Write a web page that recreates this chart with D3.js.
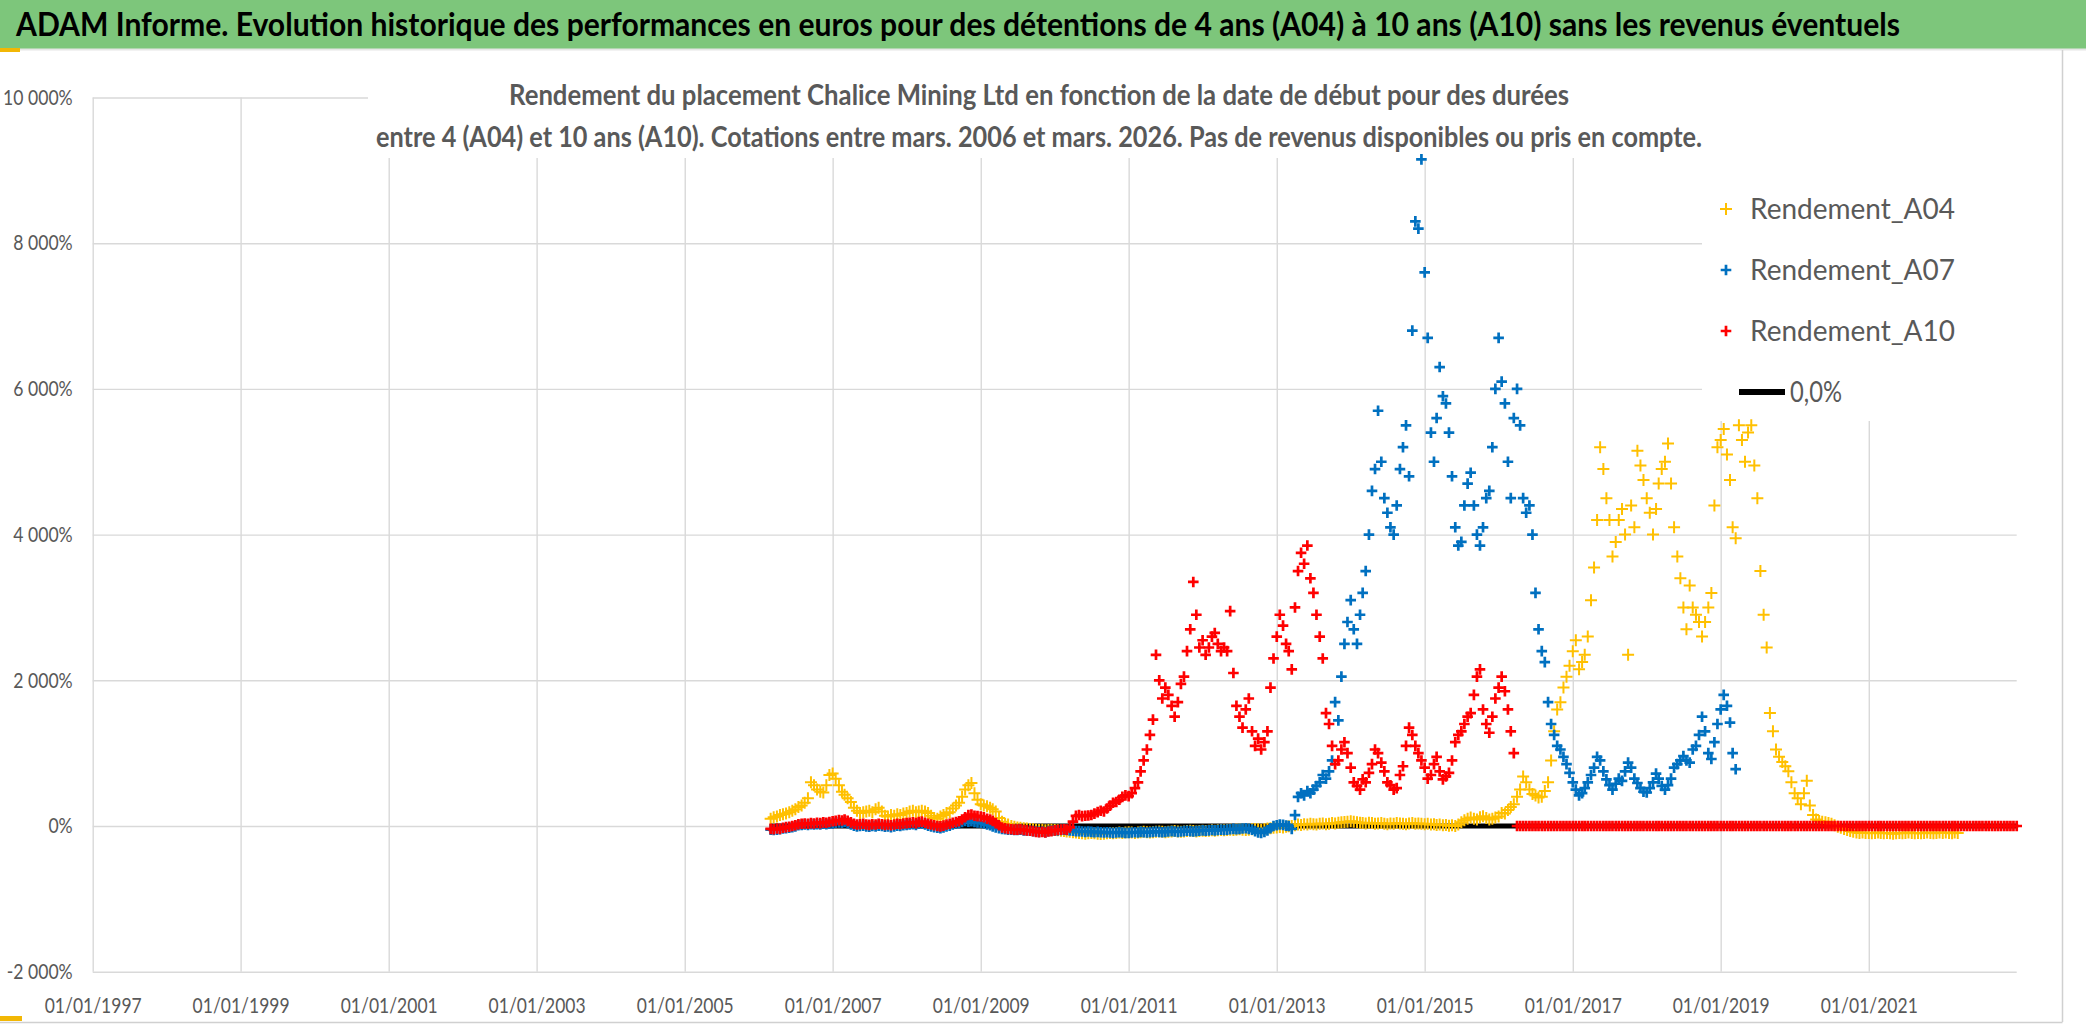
<!DOCTYPE html>
<html>
<head>
<meta charset="utf-8">
<script src="https://cdn.jsdelivr.net/npm/d3@7"></script>
<style>
body { margin: 0; background: #fff; }
svg { display: block; }
text { font-family: Lato, 'Open Sans', sans-serif; }
</style>
</head>
<body>
<svg id="chart" width="2086" height="1031"></svg>
<script>
// one value every half month (1st and 16th), starting 1st March 2006
const startYear = 2006
const startMonth = 2

const a04 = [
    100, 120, 130, 150, 160, 170, 190, 210, 230, 260, 280, 320, 380, 600, 560, 500, 470, 460, 560, 700,
    720, 650, 560, 470, 430, 380, 330, 250, 210, 180, 190, 200, 210, 190, 230, 250, 200, 140, 130, 150, 140, 160, 150, 170,
    180, 200, 210, 190, 200, 210, 200, 180, 140, 110, 100, 130, 150, 180, 190, 240, 280, 320, 400, 500, 560, 590, 450, 360,
    300, 280, 270, 250, 230, 200, 110, 60, 30, 20, 0, -10, -20, -25, -30, -35, -40, -45, -50, -55, -50, -60, -55, -50,
    -55, -60, -65, -70, -75, -80, -85, -90, -95, -100, -105, -100, -95, -100, -105, -110, -105, -100, -95, -100, -95, -90, -95, -90,
    -85, -90, -95, -90, -85, -80, -85, -90, -85, -80, -75, -80, -85, -80, -75, -70, -75, -80, -75, -70, -65, -70, -75, -70,
    -65, -70, -65, -60, -65, -60, -55, -60, -55, -50, -55, -50, -45, -50, -55, -50, -45, -40, -45, -50, -40, -35, -30, -25,
    -20, -15, -20, -10, -5, 0, 10, 20, 15, 25, 20, 30, 25, 20, 30, 35, 25, 30, 40, 35, 45, 50, 55, 60,
    65, 60, 50, 45, 40, 35, 45, 40, 30, 35, 40, 30, 25, 35, 30, 40, 35, 30, 25, 35, 40, 30, 35, 30,
    25, 30, 20, 25, 15, 20, 10, 15, 5, 10, 0, 20, 50, 80, 100, 115, 100, 90, 120, 135, 110, 90, 100, 115,
    130, 180, 170, 220, 260, 300, 400, 500, 680, 600, 500, 440, 420, 390, 400, 480, 600, 900, 1300, 1600, 1700, 1900, 2050, 2200,
    2400, 2550, 2150, 2250, 2350, 2600, 3100, 3550, 4200, 5200, 4900, 4500, 4200, 3700, 3900, 4200, 4350, 4000, 2350, 4400, 4100, 5150, 4950, 4750,
    4500, 4300, 4000, 4350, 4700, 4900, 5000, 5250, 4700, 4100, 3700, 3400, 3000, 2700, 3300, 3000, 2900, 2800, 2600, 2800, 3000, 3200, 4400, 5200,
    5300, 5450, 5100, 4750, 4100, 3950, 5500, 5300, 5000, 5400, 5500, 4950, 4500, 3500, 2900, 2450, 1550, 1300, 1050, 950, 880, 820, 750, 600,
    450, 380, 300, 450, 620, 280, 150, 90, 70, 60, 50, 40, 30, 10, -10, -25, -40, -55, -70, -80, -90, -95, -90, -95,
    -95, -100, -95, -90, -95, -100, -95, -100, -105, -100, -95, -100, -95, -90, -95, -100, -95, -100, -95, -90, -95, -100, -95, -90,
    -95, -90, -95, -100, -90, -95
]

const a07 = [
    -50, -55, -50, -45, -35, -30, -25, -15, -5, 10, 15, 20, 15, 25, 20, 25, 20, 30, 25, 30,
    35, 45, 50, 45, 55, 40, 20, 5, -5, 0, 5, -5, -10, 0, -5, 5, 0, -10, -5, -15, -5, 5, 0, 10,
    15, 20, 25, 15, 30, 35, 20, 5, -5, -15, -25, -30, -20, -5, 5, 20, 30, 40, 55, 70, 60, 65, 55, 50,
    45, 35, 20, 10, -5, -20, -30, -40, -45, -50, -50, -55, -55, -50, -60, -60, -65, -70, -75, -80, -75, -85, -70, -65,
    -60, -60, -55, -50, -55, -60, -65, -70, -70, -75, -80, -75, -80, -85, -80, -85, -90, -85, -90, -95, -90, -85, -90, -95,
    -95, -90, -85, -90, -80, -85, -90, -85, -80, -75, -80, -85, -80, -75, -70, -75, -80, -75, -70, -65, -70, -75, -70, -65,
    -60, -65, -60, -55, -60, -55, -50, -55, -50, -45, -40, -45, -40, -35, -30, -40, -50, -70, -90, -95, -80, -60, -30, 0,
    10, 20, 15, 5, 0, -40, 150, 400, 450, 420, 480, 450, 500, 550, 600, 700, 650, 750, 900, 1700, 1450, 2050, 2500, 2800,
    3100, 2700, 2500, 2900, 3200, 3500, 4000, 4600, 4900, 5700, 5000, 4500, 4300, 4100, 4000, 4400, 4900, 5200, 5500, 4800, 6800, 8300, 8200, 9150,
    7600, 6700, 5400, 5000, 5600, 6300, 5900, 5800, 5400, 4800, 4100, 3850, 3900, 4400, 4700, 4850, 4400, 4000, 3850, 4100, 4500, 4600, 5200, 6000,
    6700, 6100, 5800, 5000, 4500, 5600, 6000, 5500, 4500, 4300, 4400, 4000, 3200, 2700, 2400, 2250, 1700, 1400, 1250, 1100, 1050, 950, 850, 730,
    600, 500, 420, 450, 520, 600, 700, 800, 950, 900, 750, 640, 560, 500, 580, 650, 620, 750, 870, 800, 650, 590, 520, 470,
    460, 520, 600, 720, 650, 550, 500, 560, 650, 800, 850, 900, 960, 900, 870, 1050, 1100, 1250, 1500, 1300, 1000, 920, 1150, 1400,
    1600, 1800, 1650, 1420, 1000, 780
]

// after March 2016 the 10 year returns are not available yet and are plotted at 0
const a10 = [
    -40, -45, -35, -40, -25, -15, -10, 0, 10, 25, 30, 35, 30, 40, 35, 45, 40, 50, 45, 55,
    65, 70, 80, 75, 90, 70, 50, 30, 20, 25, 30, 20, 15, 25, 20, 30, 25, 15, 20, 10, 20, 30, 25, 35,
    40, 45, 50, 40, 55, 60, 45, 30, 20, 10, 0, -5, 5, 20, 30, 45, 55, 65, 90, 120, 150, 157, 140, 135,
    130, 120, 100, 90, 70, 40, 10, -20, -30, -40, -45, -50, -50, -45, -55, -60, -65, -70, -80, -85, -80, -90, -75, -70,
    -60, -55, -50, -45, -50, -20, 60, 140, 150, 135, 140, 145, 150, 170, 190, 210, 200, 240, 280, 320, 330, 360, 400, 420,
    410, 450, 520, 600, 750, 900, 1050, 1250, 1460, 2350, 2000, 1750, 1900, 1800, 1650, 1500, 1700, 1950, 2050, 2400, 2700, 3350, 2900, 2450,
    2550, 2350, 2450, 2600, 2650, 2500, 2400, 2450, 2400, 2950, 2100, 1650, 1500, 1350, 1600, 1750, 1300, 1100, 1200, 1050, 1150, 1300, 1900, 2300,
    2600, 2900, 2750, 2500, 2400, 2150, 3000, 3500, 3750, 3600, 3850, 3400, 3200, 2900, 2600, 2300, 1550, 1400, 1100, 850, 900, 1050, 1150, 1000,
    800, 600, 550, 500, 640, 600, 730, 850, 1050, 1000, 870, 750, 600, 560, 500, 520, 700, 820, 1100, 1350, 1250, 1100, 1000, 900,
    800, 650, 700, 850, 950, 750, 640, 680, 730, 900, 1150, 1250, 1300, 1400, 1500, 1550, 1800, 2050, 2150, 1600, 1400, 1280, 1500, 1750,
    1900, 2050, 1850, 1600, 1300, 1000,
    0, 0, 0, 0, 0, 0, 0, 0, 0, 0, 0, 0, 0, 0, 0, 0, 0, 0,
    0, 0, 0, 0, 0, 0, 0, 0, 0, 0, 0, 0, 0, 0, 0, 0, 0, 0, 0, 0, 0, 0, 0, 0,
    0, 0, 0, 0, 0, 0, 0, 0, 0, 0, 0, 0, 0, 0, 0, 0, 0, 0, 0, 0, 0, 0, 0, 0,
    0, 0, 0, 0, 0, 0, 0, 0, 0, 0, 0, 0, 0, 0, 0, 0, 0, 0, 0, 0, 0, 0, 0, 0,
    0, 0, 0, 0, 0, 0, 0, 0, 0, 0, 0, 0, 0, 0, 0, 0, 0, 0, 0, 0, 0, 0, 0, 0,
    0, 0, 0, 0, 0, 0, 0, 0, 0, 0, 0, 0, 0, 0, 0, 0, 0, 0, 0, 0, 0, 0, 0, 0,
    0, 0, 0, 0, 0, 0, 0, 0, 0, 0, 0, 0, 0, 0, 0, 0, 0, 0, 0, 0, 0, 0, 0, 0,
    0
]

const zeroDates = ['2006-03-01', '2023-01-01']
const zeroValues = [0, 0]

const yTicks = [-2000, 0, 2000, 4000, 6000, 8000, 10000]
const xTickYears = [1997, 1999, 2001, 2003, 2005, 2007, 2009, 2011, 2013, 2015, 2017, 2019, 2021]

const titleText = 'ADAM Informe. Evolution historique des performances en euros pour des détentions de 4 ans (A04) à 10 ans (A10) sans les revenus éventuels'
const subtitleLines = [
    'Rendement du placement Chalice Mining Ltd en fonction de la date de début pour des durées',
    'entre 4 (A04) et 10 ans (A10). Cotations entre mars. 2006 et mars. 2026. Pas de revenus disponibles ou pris en compte.'
]

const series = [
    { name: 'Rendement_A04', values: a04, color: '#FFC000', width: 2, size: 6 },
    { name: 'Rendement_A07', values: a07, color: '#0070C0', width: 2.7, size: 5.3 },
    { name: 'Rendement_A10', values: a10, color: '#FF0000', width: 2.7, size: 5.3 }
]

const W = 2086
const H = 1031
const plot = { left: 92.7, right: 2016.7, top: 97.5, bottom: 971.7 }
const grey = '#595959'
const gridColor = '#d9d9d9'

function dateAt(i) {
    return new Date(startYear, startMonth + Math.floor(i / 2), i % 2 ? 16 : 1)
}

function plus(s) {
    return 'M' + (-s) + ',0H' + s + 'M0,' + (-s) + 'V' + s
}

// squeeze a text to a given width (the original font is narrow)
function fit(sel, w) {
    sel.attr('textLength', w).attr('lengthAdjust', 'spacingAndGlyphs')
}

const svg = d3.select('#chart')

const x = d3.scaleTime()
    .domain([new Date(1997, 0, 1), new Date(2023, 0, 1)])
    .range([plot.left, plot.right])

const y = d3.scaleLinear()
    .domain([-2000, 10000])
    .range([plot.bottom, plot.top])

svg.append('rect').attr('width', W).attr('height', H).attr('fill', '#fff')

// title bar
svg.append('rect').attr('x', 0).attr('y', 0).attr('width', W).attr('height', 49).attr('fill', '#7dc67b')
svg.append('line').attr('x1', 0).attr('x2', W).attr('y1', 49.5).attr('y2', 49.5).attr('stroke', '#e6e6e6').attr('stroke-width', 2)
svg.append('rect').attr('x', 0).attr('y', 48).attr('width', 20).attr('height', 4).attr('fill', '#f2b705')
svg.append('text')
    .attr('x', 16).attr('y', 36)
    .attr('font-size', 32).attr('font-weight', 700).attr('fill', '#000')
    .text(titleText)
    .call(fit, 1884)

// frame
svg.append('line').attr('x1', 2062.5).attr('x2', 2062.5).attr('y1', 50).attr('y2', 1022).attr('stroke', '#d0d0d0').attr('stroke-width', 1.5)
svg.append('line').attr('x1', 0).attr('x2', 2062.5).attr('y1', 1022.5).attr('y2', 1022.5).attr('stroke', '#d0d0d0').attr('stroke-width', 1.5)
svg.append('rect').attr('x', 0).attr('y', 1016).attr('width', 22).attr('height', 5).attr('fill', '#f2b705')

// grid
let xTicks = xTickYears.map(function (yr) { return new Date(yr, 0, 1) })

svg.append('g')
    .attr('transform', 'translate(0,' + plot.bottom + ')')
    .call(d3.axisBottom(x).tickValues(xTicks).tickSize(-(plot.bottom - plot.top)).tickFormat(''))
    .call(function (g) { g.select('.domain').remove() })
    .selectAll('line').attr('stroke', gridColor).attr('stroke-width', 1.4)

svg.append('g')
    .attr('transform', 'translate(' + plot.left + ',0)')
    .call(d3.axisLeft(y).tickValues(yTicks).tickSize(-(plot.right - plot.left)).tickFormat(''))
    .call(function (g) { g.select('.domain').remove() })
    .selectAll('line').attr('stroke', gridColor).attr('stroke-width', 1.4)

// white boxes of the subtitle and the legend, over the grid
svg.append('rect').attr('x', 368).attr('y', 70).attr('width', 1337).attr('height', 88).attr('fill', '#fff')
svg.append('rect').attr('x', 1702).attr('y', 97).attr('width', 316).attr('height', 324).attr('fill', '#fff')

// 0,0% line
svg.append('path')
    .datum(zeroDates.map(function (d, i) { return [new Date(d), zeroValues[i]] }))
    .attr('fill', 'none').attr('stroke', '#000').attr('stroke-width', 5)
    .attr('d', d3.line().x(function (d) { return x(d[0]) }).y(function (d) { return y(d[1]) }))

// points
series.forEach(function (s) {
    svg.append('g')
        .attr('stroke', s.color).attr('stroke-width', s.width).attr('fill', 'none')
        .selectAll('path')
        .data(s.values)
        .enter().append('path')
        .attr('d', plus(s.size))
        .attr('transform', function (d, i) { return 'translate(' + x(dateAt(i)) + ',' + y(d) + ')' })
})

// y labels
let fmtPct = function (d) { return d3.format(',')(d).replace(/,/g, ' ').replace('\u2212', '-') + '%' }

let yAxis = svg.append('g')
    .attr('transform', 'translate(' + plot.left + ',0)')
    .call(d3.axisLeft(y).tickValues(yTicks).tickSize(0).tickPadding(20).tickFormat(fmtPct))
yAxis.select('.domain').remove()
yAxis.selectAll('text')
    .attr('font-family', 'Lato, sans-serif').attr('font-size', 21).attr('fill', grey)
let yRef = yAxis.selectAll('text').nodes()[0].getComputedTextLength()
yAxis.selectAll('text').each(function () {
    d3.select(this).call(fit, this.getComputedTextLength() * 66 / yRef)
})

// x labels
let xAxis = svg.append('g')
    .attr('transform', 'translate(0,' + plot.bottom + ')')
    .call(d3.axisBottom(x).tickValues(xTicks).tickSize(0).tickPadding(26).tickFormat(d3.timeFormat('%d/%m/%Y')))
xAxis.select('.domain').remove()
xAxis.selectAll('text')
    .attr('font-family', 'Lato, sans-serif').attr('font-size', 22).attr('fill', grey)
    .call(fit, 97)

// subtitle
let subW = [1060, 1326]
subtitleLines.forEach(function (line, i) {
    svg.append('text')
        .attr('x', 1039).attr('y', 105 + i * 41.5)
        .attr('text-anchor', 'middle')
        .attr('font-size', 29).attr('font-weight', 700).attr('fill', grey)
        .text(line)
        .call(fit, subW[i])
})

// legend
let legendY = [209, 270, 331]
series.forEach(function (s, i) {
    svg.append('path')
        .attr('d', plus(s.size))
        .attr('transform', 'translate(1726,' + legendY[i] + ')')
        .attr('stroke', s.color).attr('stroke-width', s.width).attr('fill', 'none')
    svg.append('text')
        .attr('x', 1750).attr('y', legendY[i]).attr('dy', '0.36em')
        .attr('font-size', 29).attr('fill', grey)
        .text(s.name)
        .call(fit, 205)
})
svg.append('line')
    .attr('x1', 1739).attr('x2', 1785).attr('y1', 392).attr('y2', 392)
    .attr('stroke', '#000').attr('stroke-width', 6)
svg.append('text')
    .attr('x', 1790).attr('y', 392).attr('dy', '0.36em')
    .attr('font-size', 29).attr('fill', grey)
    .text('0,0%')
    .call(fit, 52)
</script>
</body>
</html>
